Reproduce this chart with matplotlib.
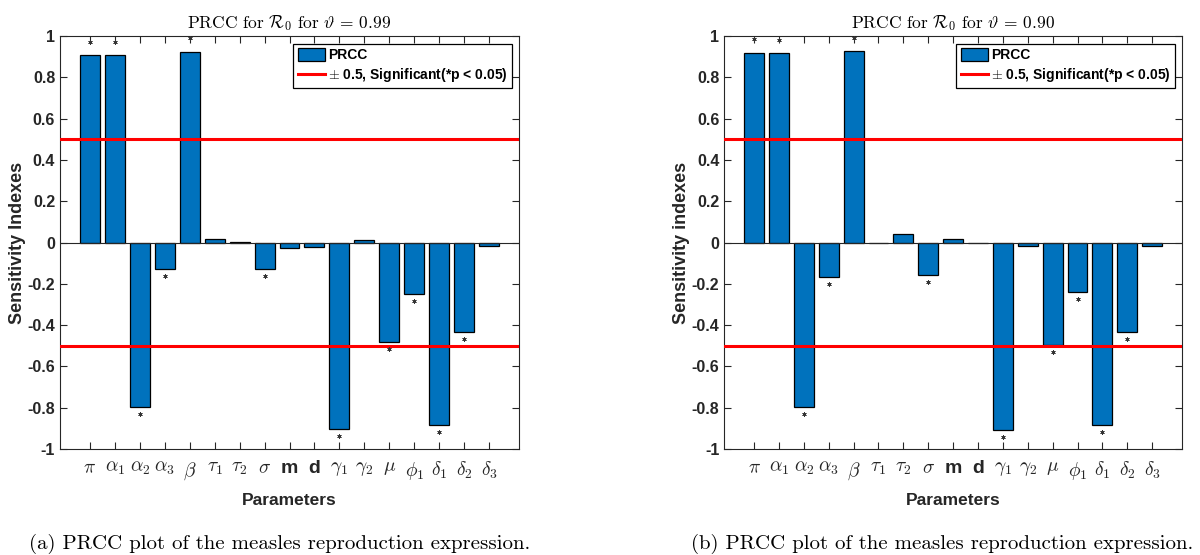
import matplotlib
matplotlib.use('Agg')
import matplotlib.pyplot as plt
from matplotlib.ticker import MultipleLocator, FuncFormatter
from matplotlib.lines import Line2D
from matplotlib.patches import Patch
import numpy as np

plt.rcParams['mathtext.fontset'] = 'cm'
plt.rcParams['font.family'] = ['Liberation Sans', 'DejaVu Sans']

params = [r'$\pi$', r'$\alpha_\mathsf{1}$', r'$\alpha_\mathsf{2}$', r'$\alpha_\mathsf{3}$',
          r'$\beta$', r'$\tau_\mathsf{1}$', r'$\tau_\mathsf{2}$', r'$\sigma$', 'm', 'd',
          r'$\gamma_\mathsf{1}$', r'$\gamma_\mathsf{2}$', r'$\mu$', r'$\phi_\mathsf{1}$',
          r'$\delta_\mathsf{1}$', r'$\delta_\mathsf{2}$', r'$\delta_\mathsf{3}$']

prcc_099 = [0.908, 0.908, -0.795, -0.126, 0.924, 0.016, 0.002, -0.129, -0.027, -0.021,
            -0.901, 0.010, -0.480, -0.248, -0.884, -0.431, -0.019]
prcc_090 = [0.919, 0.916, -0.797, -0.168, 0.926, -0.003, 0.040, -0.155, 0.015, -0.003,
            -0.906, -0.018, -0.494, -0.239, -0.885, -0.433, -0.015]

# significant (p < 0.05) parameters get an asterisk
significant = [True, True, True, True, True, False, False, True, False, False,
               True, False, True, True, True, True, False]

thetas = ['0.99', '0.90']
ylabels = ['Sensitivity Indexes', 'Sensitivity indexes']
captions = ['(a) PRCC plot of the measles reproduction expression.',
            '(b) PRCC plot of the measles reproduction expression.']

bar_color = '#0072BD'
axis_color = '#262626'

fig = plt.figure(figsize=(12, 5.55), dpi=100)
positions = [[0.050, 0.191, 0.3825, 0.744], [0.6035, 0.191, 0.3815, 0.744]]
cap_x = [0.233, 0.7855]

for pos, values, theta, ylab, cap, cx in zip(positions, [prcc_099, prcc_090], thetas,
                                              ylabels, captions, cap_x):
    ax = fig.add_axes(pos)
    x = np.arange(1, len(params) + 1)
    ax.bar(x, values, width=0.8, color=bar_color, edgecolor='black',
           linewidth=0.9, zorder=2, label='PRCC')
    ax.axhline(0, color=axis_color, lw=0.8, zorder=3)
    ax.axhline(0.5, color='#FF0000', lw=2.2, zorder=4)
    ax.axhline(-0.5, color='#FF0000', lw=2.2, zorder=4)

    for xi, v, sig in zip(x, values, significant):
        if not sig:
            continue
        ys = v + 0.065 if v > 0 else v - 0.035
        ax.plot(xi, ys, marker=(6, 2, 0), color='#333333', markersize=3.2,
                markeredgewidth=0.5, zorder=5)

    ax.set_xlim(-0.2, 18.2)
    ax.set_ylim(-1, 1)
    ax.set_xticks(x)
    ax.set_xticklabels(params)
    ax.yaxis.set_major_locator(MultipleLocator(0.2))
    ax.yaxis.set_major_formatter(FuncFormatter(lambda v, _: f'{round(v, 1) + 0:g}'))
    ax.tick_params(direction='in', length=5, width=0.8, color=axis_color,
                   top=True, right=True, labelcolor=axis_color)
    ax.tick_params(axis='y', pad=3.5, labelsize=11.5)
    ax.tick_params(axis='x', pad=8, labelsize=14)
    for lbl in ax.get_yticklabels() + ax.get_xticklabels():
        lbl.set_fontweight('bold')
    for sp in ax.spines.values():
        sp.set_color(axis_color)
        sp.set_linewidth(0.8)

    ax.set_xlabel('Parameters', fontsize=12.5, fontweight='bold', color=axis_color, labelpad=8)
    ax.set_ylabel(ylab, fontsize=13, fontweight='bold', color=axis_color, labelpad=1)
    ax.set_title(r'PRCC for $\mathcal{R}_0$ for $\vartheta\,=\,' + theta + '$',
                 fontsize=12.5, family='cmr10', pad=6)

    handles = [Patch(facecolor=bar_color, edgecolor='black', linewidth=0.9),
               Line2D([0], [0], color='#FF0000', lw=2.2)]
    leg = ax.legend(handles, ['PRCC', r'$\pm$ 0.5, Significant(*p < 0.05)'],
                    loc='upper right', bbox_to_anchor=(0.985, 0.982), borderaxespad=0,
                    fancybox=False, edgecolor='black', framealpha=1,
                    prop={'weight': 'bold', 'size': 10}, handlelength=2.0,
                    handleheight=1.1, labelspacing=0.3, borderpad=0.3, handletextpad=0.2)
    leg.get_frame().set_linewidth(0.9)

    fig.text(cx, 0.02, cap, ha='center', va='center', fontsize=15, family='cmr10')

fig.savefig('out.png', dpi=100)
